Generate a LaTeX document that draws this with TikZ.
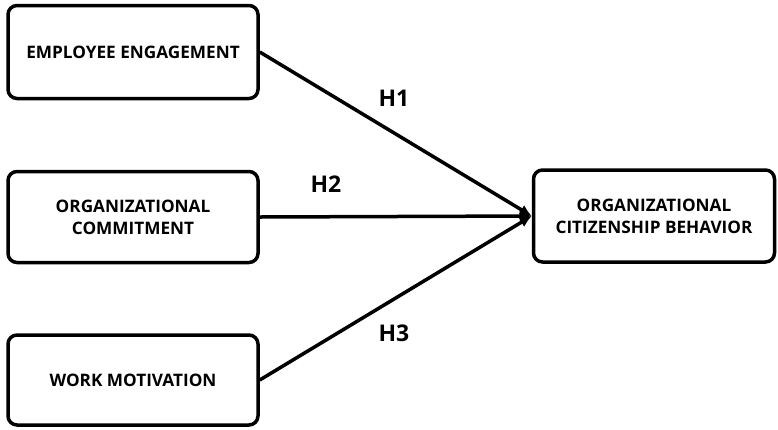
\documentclass[tikz,border=0pt]{standalone}
\usepackage{fontspec}
\setmainfont{Open Sans}
\usetikzlibrary{arrows.meta}
\tikzset{
	varbox/.style={draw, line width=3.5pt, rounded corners=9pt, fill=white,
		align=center, font=\bfseries\fontsize{17.2}{22}\selectfont},
	hyp/.style={line width=3.5pt, -{Latex[length=12pt,width=11pt]}},
	hlabel/.style={font=\bfseries\fontsize{23}{26}\selectfont}
}
\begin{document}
\begin{tikzpicture}[x=1pt,y=-1pt]
\useasboundingbox (0,0) rectangle (778,429);
\path
	(133,52) node [varbox, minimum width=250pt, minimum height=93pt] (ee) {EMPLOYEE ENGAGEMENT}
	(133,217) node [varbox, minimum width=250pt, minimum height=91pt] (oc) {ORGANIZATIONAL\\COMMITMENT}
	(133,380) node [varbox, minimum width=250pt, minimum height=90pt] (wm) {WORK MOTIVATION}
	(654,216) node [varbox, minimum width=241pt, minimum height=92pt] (ocb) {ORGANIZATIONAL\\CITIZENSHIP BEHAVIOR};
\draw [hyp] (ee.east) -- (ocb.west);
\draw [hyp] (oc.east) -- (ocb.west);
\draw [hyp] (wm.east) -- (ocb.west);
\path
	(394,98) node [hlabel] (h1) {H1}
	(326,184) node [hlabel] (h2) {H2}
	(394,333) node [hlabel] (h3) {H3};
\end{tikzpicture}
\end{document}
